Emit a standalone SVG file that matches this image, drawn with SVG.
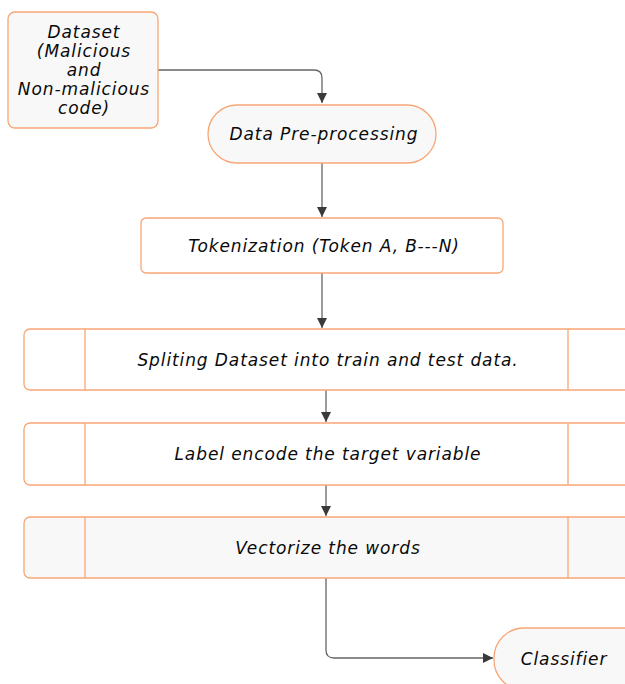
<svg xmlns="http://www.w3.org/2000/svg" width="625" height="684" viewBox="0 0 625 684">
<defs>
<marker id="arr" viewBox="0 0 10 10" refX="10" refY="5" markerWidth="10" markerHeight="10" markerUnits="userSpaceOnUse" orient="auto">
<path d="M0,0 L10,5 L0,10 Z" fill="#3a3a3a"/>
</marker>
</defs>
<style>
.n{stroke:#f7a676;stroke-width:1.3}
.g{fill:#f8f8f8}
.w{fill:#ffffff}
.t{font-family:"DejaVu Sans","Noto Sans",sans-serif;font-style:italic;font-size:17px;letter-spacing:0.9px;fill:#0a0a0a;text-anchor:middle}
.c{fill:none;stroke:#666;stroke-width:1.3}
</style>
<rect width="625" height="684" fill="#fff"/>
<g id="connectors">
<path class="c" d="M158,70 H314 Q322,70 322,78 V103" marker-end="url(#arr)"/>
<path class="c" d="M322,163 V217" marker-end="url(#arr)"/>
<path class="c" d="M322,273 V328" marker-end="url(#arr)"/>
<path class="c" d="M326,390 V422" marker-end="url(#arr)"/>
<path class="c" d="M326,485 V516" marker-end="url(#arr)"/>
<path class="c" d="M326,578 V650 Q326,658 334,658 H493" marker-end="url(#arr)"/>
</g>
<g id="dataset">
<rect class="n g" x="8" y="12" width="150" height="116" rx="7"/>
<text class="t" x="84" y="38">Dataset</text>
<text class="t" x="84" y="57">(Malicious</text>
<text class="t" x="84" y="76">and</text>
<text class="t" x="84" y="95">Non-malicious</text>
<text class="t" x="84" y="114">code)</text>
</g>
<g id="preprocessing">
<rect class="n g" x="208" y="105" width="228" height="58" rx="29"/>
<text class="t" x="324" y="140">Data Pre-processing</text>
</g>
<g id="tokenization">
<rect class="n w" x="141" y="218" width="362" height="55" rx="5"/>
<text class="t" x="324" y="252">Tokenization (Token A, B---N)</text>
</g>
<g id="splitting">
<rect class="n w" x="24" y="329" width="610" height="61" rx="6"/>
<line class="n" x1="85" y1="329" x2="85" y2="390"/>
<line class="n" x1="568" y1="329" x2="568" y2="390"/>
<text class="t" x="328" y="366">Spliting Dataset into train and test data.</text>
</g>
<g id="labelencode">
<rect class="n w" x="24" y="423" width="610" height="62" rx="6"/>
<line class="n" x1="85" y1="423" x2="85" y2="485"/>
<line class="n" x1="568" y1="423" x2="568" y2="485"/>
<text class="t" x="328" y="460">Label encode the target variable</text>
</g>
<g id="vectorize">
<rect class="n g" x="24" y="517" width="610" height="61" rx="6"/>
<line class="n" x1="85" y1="517" x2="85" y2="578"/>
<line class="n" x1="568" y1="517" x2="568" y2="578"/>
<text class="t" x="328" y="554">Vectorize the words</text>
</g>
<g id="classifier">
<rect class="n g" x="494" y="628" width="160" height="62" rx="30"/>
<text class="t" x="564" y="665">Classifier</text>
</g>
</svg>
